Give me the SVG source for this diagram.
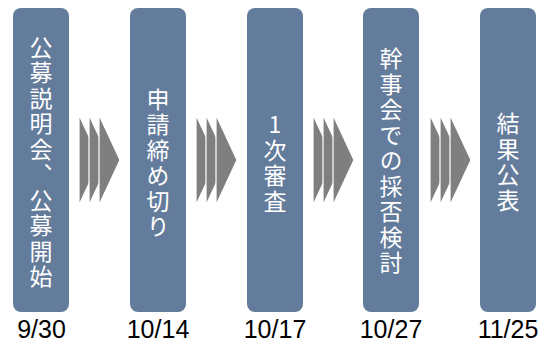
<svg xmlns="http://www.w3.org/2000/svg" width="539" height="345" viewBox="0 0 539 345">
<defs>
<style>
.box{fill:#647C9B;}
.lbl{font-family:"Noto Sans CJK JP","Noto Sans",sans-serif;font-size:23px;fill:#fff;writing-mode:vertical-rl;text-orientation:upright;letter-spacing:2.5px;text-anchor:middle;}
.date{font-family:"Liberation Sans",Arial,sans-serif;font-size:25px;fill:#000;text-anchor:middle;}
.chev{fill:#7F7F7F;stroke:#fff;stroke-width:1.2;}
</style>
<g id="chevs">
<polygon points="0,0 21,45 0,90"/>
</g>
</defs>
<g id="connectors">
<g transform="translate(79,115)"><polygon class="chev" points="0,0 21,45 0,90"/><polygon class="chev" points="10,0 31,45 10,90"/><polygon class="chev" points="20,0 41,45 20,90"/></g>
<g transform="translate(196,115)"><polygon class="chev" points="0,0 21,45 0,90"/><polygon class="chev" points="10,0 31,45 10,90"/><polygon class="chev" points="20,0 41,45 20,90"/></g>
<g transform="translate(313,115)"><polygon class="chev" points="0,0 21,45 0,90"/><polygon class="chev" points="10,0 31,45 10,90"/><polygon class="chev" points="20,0 41,45 20,90"/></g>
<g transform="translate(430,115)"><polygon class="chev" points="0,0 21,45 0,90"/><polygon class="chev" points="10,0 31,45 10,90"/><polygon class="chev" points="20,0 41,45 20,90"/></g>
</g>
<g id="step1">
<rect class="box" x="13" y="8" width="56" height="304" rx="8"/>
<text class="lbl" x="41" y="163">公募説明会、公募開始</text>
<text class="date" x="41.5" y="338">9/30</text>
</g>
<g id="step2">
<rect class="box" x="130" y="8" width="56" height="304" rx="8"/>
<text class="lbl" x="158" y="164">申請締め切り</text>
<text class="date" x="158" y="338">10/14</text>
</g>
<g id="step3">
<rect class="box" x="247" y="8" width="56" height="304" rx="8"/>
<text class="lbl" x="275" y="164">1次審査</text>
<text class="date" x="275" y="338">10/17</text>
</g>
<g id="step4">
<rect class="box" x="363" y="8" width="56" height="304" rx="8"/>
<text class="lbl" x="391" y="162">幹事会での採否検討</text>
<text class="date" x="391" y="338">10/27</text>
</g>
<g id="step5">
<rect class="box" x="480" y="8" width="56" height="304" rx="8"/>
<text class="lbl" x="508" y="163">結果公表</text>
<text class="date" x="508" y="338">11/25</text>
</g>
</svg>
